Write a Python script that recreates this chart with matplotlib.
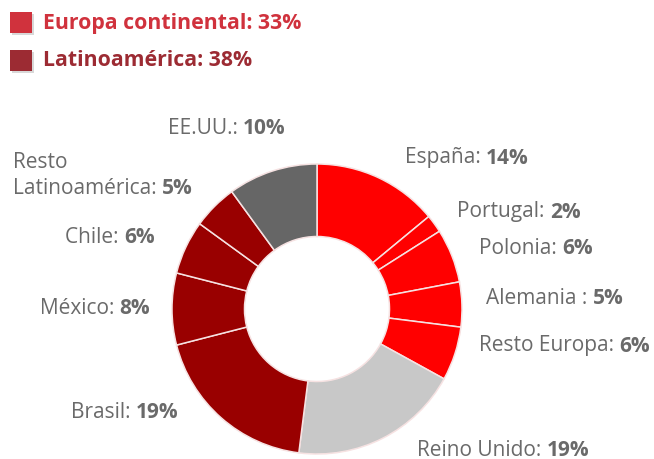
import matplotlib
matplotlib.use("Agg")
import matplotlib.pyplot as plt
from matplotlib.patches import Rectangle

# ---- data ----
names = ["España", "Portugal", "Polonia", "Alemania ", "Resto Europa", "Reino Unido",
         "Brasil", "México", "Chile", "Resto\nLatinoamérica", "EE.UU."]
values = [14, 2, 6, 5, 6, 19, 19, 8, 6, 5, 10]
groups = ["Europa continental", "Latinoamérica"]
group_values = [33, 38]

# ---- styles ----
RED = "#FF0000"
DARKRED = "#990000"
colors = [RED] * 5 + ["#C8C8C8"] + [DARKRED] * 4 + ["#666666"]
group_colors = ["#D0323D", "#9C2B33"]
TXT = "#6A6A6A"
W, H = 654, 459
plt.rcParams["font.family"] = ["Open Sans", "DejaVu Sans"]

fig = plt.figure(figsize=(W / 100, H / 100), dpi=100)
fig.patch.set_facecolor("white")

cx, cy, R = 317, 309, 145
ax = fig.add_axes([(cx - R) / W, (H - cy - R) / H, 2 * R / W, 2 * R / H])
ax.pie(values, colors=colors, startangle=90, counterclock=False, radius=1,
       wedgeprops=dict(width=0.5, edgecolor="#F6E2E2", linewidth=1.1))
ax.set_xlim(-1, 1)
ax.set_ylim(-1, 1)
ax.set_aspect("equal")
ax.axis("off")

renderer = fig.canvas.get_renderer()
FS = 15.0

def fx(x):
    return x / W

def fy(y):
    return 1 - y / H

def mixed(x, y, regular, bold, color=TXT, fs=FS):
    t = fig.text(fx(x), fy(y), regular, fontsize=fs, color=color, va="center")
    bb = t.get_window_extent(renderer)
    fig.text(bb.x1 / W, fy(y), bold, fontsize=fs, color=color,
             fontweight="bold", va="center")

# label layout (pixel positions: left x, center y)
label_pos = [(405, 158), (457, 212), (479, 248), (486, 298), (479, 346),
             (417, 450), (71, 413), (40, 309), (65, 237), (13, 188), (168, 128)]
line_gap = 25

for name, v, (x, y) in zip(names, values, label_pos):
    lines = name.split("\n")
    for i, ln in enumerate(lines[:-1]):
        fig.text(fx(x), fy(y - line_gap * (len(lines) - 1 - i)), ln,
                 fontsize=FS, color=TXT, va="center")
    mixed(x, y, lines[-1] + ": ", f"{v}%")

# legend
leg_y = [23, 61]
for g, gv, c, y in zip(groups, group_values, group_colors, leg_y):
    fig.patches.append(Rectangle((fx(12), fy(y + 12)), 22 / W, 21 / H,
                                 transform=fig.transFigure, facecolor="#D8D8D8",
                                 edgecolor="none"))
    fig.patches.append(Rectangle((fx(10), fy(y + 10)), 22 / W, 21 / H,
                                 transform=fig.transFigure, facecolor=c,
                                 edgecolor="none"))
    fig.text(fx(43), fy(y), f"{g}: {gv}%", fontsize=15.3, color=c,
             fontweight="bold", va="center")

fig.savefig("out.png", dpi=100, facecolor="white")
